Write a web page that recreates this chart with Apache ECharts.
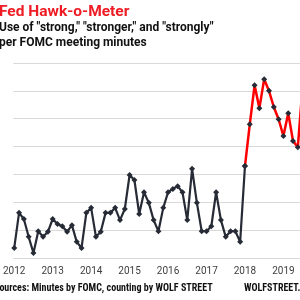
<!DOCTYPE html>
<html>
<head>
<meta charset="utf-8">
<script src="https://cdn.jsdelivr.net/npm/echarts@6/dist/echarts.min.js"></script>
<style>
    html, body { margin: 0; padding: 0; background: #fff; }
    #chart { width: 300px; height: 300px; }
</style>
</head>
<body>
<div id="chart"></div>
<script>
// meeting index -> year label (first meeting of each year)
var yearLabels = ['2012', '2013', '2014', '2015', '2016', '2017', '2018', '2019'];
var yearStarts = [0, 8, 16, 24, 32, 40, 48, 56];

// counts per FOMC meeting minutes, 2012 - Jan 2018
var hawkOld = [
    1.8, 8.1, 7.0, 3.8, 0.9, 4.8, 3.8, 4.7,
    7.0, 6.1, 5.7, 4.7, 5.9, 2.9, 1.8, 8.1,
    9.0, 3.8, 4.7, 8.1, 8.1, 9.0, 6.8, 8.8,
    14.9, 14.0, 7.9, 11.8, 9.9, 6.8, 4.8, 9.0,
    11.8, 12.4, 12.9, 11.8, 6.8, 16.0, 9.9, 4.8,
    4.8, 5.7, 11.8, 6.8, 3.8, 4.8, 4.8, 2.9,
    16.5
];
// Jan 2018 onward (red)
var hawkNew = [16.5, 24.0, 31.0, 26.9, 32.1, 30.0, 27.1, 24.9, 21.9, 26.0, 21.0, 19.9, 31.0];
var newStart = 48;

(function () {
    var chart = echarts.init(document.getElementById('chart'));
    var dark = '#262b36';
    var font = 'Roboto, "Liberation Sans", sans-serif';
    var narrow = '"Liberation Sans Narrow", "Roboto Condensed", Roboto, sans-serif';

    var oldData = hawkOld.map(function (v, i) { return [i, v]; });
    var newData = hawkNew.map(function (v, i) { return [newStart + i, v]; });

    var option = {
        animation: false,
        backgroundColor: '#fff',
        title: [{
            text: 'Fed Hawk-o-Meter',
            left: -1,
            top: 3,
            padding: 0,
            textStyle: { color: '#ee1c24', fontFamily: font, fontWeight: 'bold', fontSize: 15.5, lineHeight: 18 }
        }, {
            text: 'Use of "strong," "stronger," and "strongly"\nper FOMC meeting minutes',
            left: -1,
            top: 20,
            padding: 0,
            textStyle: { color: '#111', fontFamily: font, fontWeight: 'bold', fontSize: 12, lineHeight: 15 }
        }, {
            text: 'Sources: Minutes by FOMC, counting by WOLF STREET',
            left: -6,
            top: 282,
            padding: 0,
            textStyle: { color: '#111', fontFamily: narrow, fontWeight: 'bold', fontSize: 10, lineHeight: 12 }
        }, {
            text: 'WOLFSTREET.com',
            left: 244,
            top: 282,
            padding: 0,
            textStyle: { color: '#111', fontFamily: narrow, fontWeight: 'bold', fontSize: 10, lineHeight: 12 }
        }],
        grid: { left: 8, right: 0, top: 63, bottom: 42 },
        xAxis: {
            type: 'value',
            min: -0.2,
            max: 59.45,
            axisLine: { show: false },
            axisTick: { show: false },
            splitLine: { show: false },
            axisLabel: {
                customValues: yearStarts,
                color: '#404040',
                fontFamily: font,
                fontSize: 10,
                margin: 8,
                formatter: function (v) {
                    var k = yearStarts.indexOf(v);
                    return k >= 0 ? yearLabels[k] : '';
                }
            }
        },
        yAxis: {
            type: 'value',
            min: 0,
            max: 35,
            interval: 5,
            axisLine: { show: false },
            axisTick: { show: false },
            axisLabel: { show: false },
            splitLine: { lineStyle: { color: '#d9d9d9', width: 1 } }
        },
        series: [{
            type: 'line',
            data: oldData,
            clip: true,
            symbol: 'diamond',
            symbolSize: 6,
            lineStyle: { color: dark, width: 2.2 },
            itemStyle: { color: dark }
        }, {
            type: 'line',
            data: newData,
            clip: true,
            symbol: 'diamond',
            symbolSize: 6,
            lineStyle: { color: '#ff0000', width: 2.5 },
            itemStyle: { color: dark }
        }]
    };
    chart.setOption(option);
})();
</script>
</body>
</html>
